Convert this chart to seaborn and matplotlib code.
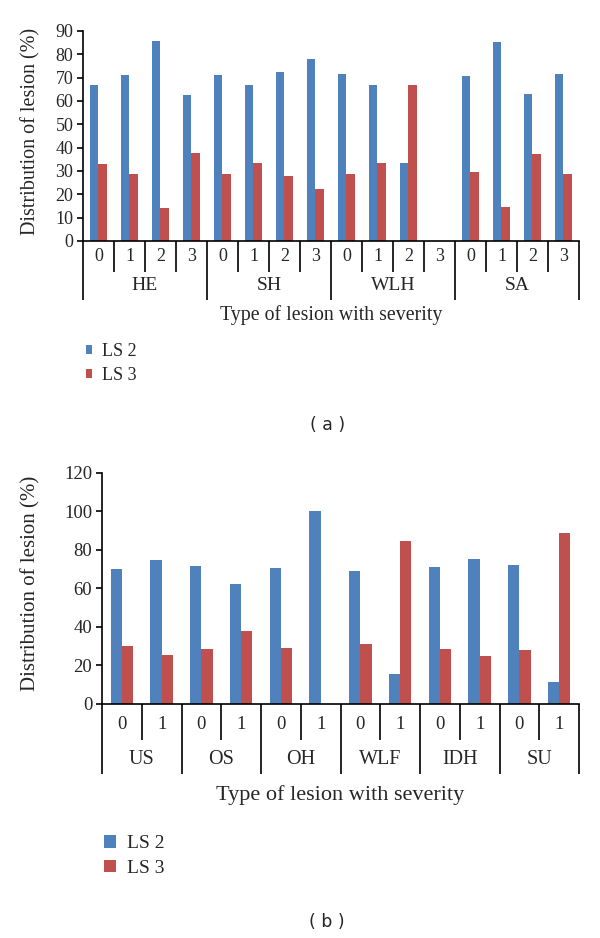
import matplotlib
matplotlib.use("Agg")
import matplotlib.pyplot as plt
import matplotlib.transforms as mtrans
import pandas as pd
import seaborn as sns

# panel (a)
groups_a = ["HE", "SH", "WLH", "SA"]
sev_a = ["0", "1", "2", "3"]
ls2_a = [67.0, 71.0, 85.7, 62.5, 71.3, 66.7, 72.2, 77.8,
         71.4, 66.7, 33.3, 0.0, 70.5, 85.3, 62.8, 71.4]
ls3_a = [33.0, 28.6, 14.3, 37.5, 28.7, 33.3, 27.8, 22.2,
         28.6, 33.3, 66.7, 0.0, 29.5, 14.7, 37.2, 28.6]

# panel (b)
groups_b = ["US", "OS", "OH", "WLF", "IDH", "SU"]
sev_b = ["0", "1"]
ls2_b = [70.1, 74.7, 71.6, 62.1, 70.8, 100.0,
         69.1, 15.5, 71.3, 75.2, 72.1, 11.2]
ls3_b = [29.9, 25.3, 28.4, 37.9, 29.2, 0.0,
         30.9, 84.5, 28.7, 24.8, 27.9, 88.8]

series = ["LS 2", "LS 3"]
colors = ["#4F81BD", "#C0504D"]

sns.set_style("white")
plt.rcParams["font.family"] = ["Liberation Serif", "DejaVu Serif"]


def make_df(groups, sev, v2, v3):
    cats = [f"{g}-{s}" for g in groups for s in sev]
    rows = []
    for c, a, b in zip(cats, v2, v3):
        rows.append((c, series[0], a))
        rows.append((c, series[1], b))
    return cats, pd.DataFrame(rows, columns=["cat", "series", "value"])


def draw_panel(ax, groups, sev, v2, v3, ymax, ystep, width, fs, gfs, yfs, xfs,
               ylab_x, sev_y, sev_bot, grp_y, grp_bot, xl_y):
    cats, df = make_df(groups, sev, v2, v3)
    sns.barplot(data=df, x="cat", y="value", hue="series", order=cats,
                hue_order=series, palette=colors, width=width, ax=ax,
                legend=True, saturation=1, linewidth=0)
    ax.set_ylim(0, ymax)
    ax.set_xlim(-0.5, len(cats) - 0.5)
    ax.set_yticks(range(0, ymax + 1, ystep))
    ax.tick_params(axis="y", labelsize=fs, length=4, width=1.2,
                   direction="out", left=True, pad=3, color="black")
    ax.set_xticks([])
    ax.set_xlabel("")
    ax.set_ylabel("Distribution of lesion (%)", fontsize=yfs)
    ax.yaxis.set_label_coords(ylab_x, 0.52)
    ax.yaxis.label.set_va("center")
    sns.despine(ax=ax)
    for sp in ["left", "bottom"]:
        ax.spines[sp].set_color("black")
        ax.spines[sp].set_linewidth(1.2)

    tr = mtrans.blended_transform_factory(ax.transData, ax.transAxes)
    n_sev = len(sev)
    for i, c in enumerate(cats):
        ax.text(i, sev_y, c.split("-")[1], transform=tr, ha="center",
                va="center", fontsize=fs)
    for k in range(len(cats) + 1):
        bot = grp_bot if k % n_sev == 0 else sev_bot
        ax.plot([k - 0.5, k - 0.5], [0, bot], transform=tr, color="black",
                lw=1.2, clip_on=False, solid_capstyle="butt")
    for gi, g in enumerate(groups):
        ax.text(gi * n_sev + (n_sev - 1) / 2, grp_y, g, transform=tr,
                ha="center", va="center", fontsize=gfs)
    ax.text(0.5, xl_y, "Type of lesion with severity", transform=ax.transAxes,
            ha="center", va="center", fontsize=xfs)


fig = plt.figure(figsize=(6, 9.38), dpi=100)

ax1 = fig.add_axes([0.1383, 0.7431, 0.8267, 0.2239])
draw_panel(ax1, groups_a, sev_a, ls2_a, ls3_a, 90, 10, 0.535, 13, 14, 14.5,
           14.3, -0.105, -0.076, -0.148, -0.210, -0.281, -0.352)
ax1.legend(loc="upper left", bbox_to_anchor=(0.1433, 0.6343),
           bbox_transform=fig.transFigure, frameon=False, fontsize=13,
           handlelength=0.33, handleheight=0.33, handletextpad=0.55,
           labelspacing=0.39, borderaxespad=0, borderpad=0)
fig.text(328 / 600, 1 - 425 / 938, "( a )", ha="center", va="center",
         fontsize=12.5, family="DejaVu Sans")

ax2 = fig.add_axes([0.17, 0.2495, 0.795, 0.2463])
draw_panel(ax2, groups_b, sev_b, ls2_b, ls3_b, 120, 20, 0.57, 13.5, 14.5, 15,
           16, -0.15, -0.091, -0.156, -0.242, -0.303, -0.394)
ax2.legend(loc="upper left", bbox_to_anchor=(0.1733, 0.1098),
           bbox_transform=fig.transFigure, frameon=False, fontsize=14,
           handlelength=0.62, handleheight=0.62, handletextpad=0.57,
           labelspacing=0.39, borderaxespad=0, borderpad=0)
fig.text(327 / 600, 1 - 922 / 938, "( b )", ha="center", va="center",
         fontsize=12.5, family="DejaVu Sans")

fig.savefig("out.png", dpi=100)
